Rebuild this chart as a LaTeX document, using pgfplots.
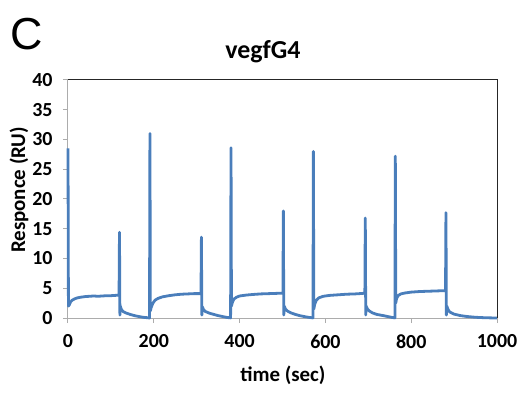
\documentclass[border=0pt]{standalone}
\usepackage{fontspec}
\setmainfont{Carlito}
\newfontfamily\arialfont{Liberation Sans}
\usepackage{pgfplots}
\pgfplotsset{compat=1.18}
\definecolor{sgblue}{RGB}{74,126,187}
\begin{document}
\begin{tikzpicture}
\useasboundingbox (-68bp,-76bp) rectangle (454bp,318bp);
\begin{axis}[
  at={(0,0)}, anchor=south west,
  scale only axis, width=429bp, height=238bp,
  xmin=0, xmax=1000, ymin=0, ymax=40,
  xtick={0,200,400,600,800,1000}, ytick={0,5,10,15,20,25,30,35,40},
  xticklabels={0,200,400,600,800,1000},
  yticklabels={0,5,10,15,20,25,30,35,40},
  xtick pos=bottom, ytick pos=left, tick align=outside,
  major tick length=5bp,
  axis line style={draw=gray!65, line width=1bp},
  tick style={draw=gray!65, line width=1bp},
  tick label style={font=\fontsize{20}{24}\selectfont\bfseries},
  yticklabel style={xshift=-7bp},
  xticklabel style={yshift=-8bp},
  title={vegfG4},
  title style={at={(rel axis cs:0.4545,1)}, anchor=base, yshift=16bp, font=\fontsize{26}{31}\selectfont\bfseries},
  xlabel={time (sec)},
  xlabel style={at={(rel axis cs:0.501,0)}, anchor=base, yshift=-63bp, font=\fontsize{21}{25}\selectfont\bfseries},
  ylabel={Responce (RU)},
  ylabel style={at={(rel axis cs:-0.1002,0.538)}, anchor=base, font=\fontsize{21}{25}\selectfont\bfseries},
  clip=false,
]
\addplot[sgblue, line width=2.8bp, line join=round, no marks] coordinates {
(0,28.5)(1,2.0)(3,2.2)(6,2.7)(10,3.0)(15,3.2)(20,3.35)(30,3.5)(40,3.6)(50,3.65)(60,3.7)(70,3.65)(80,3.7)(90,3.75)(100,3.75)(110,3.8)(119,3.85)
(120,14.4)(121,0.5)(122,2.0)(124,1.5)(128,1.1)(135,0.85)(145,0.6)(155,0.4)(165,0.25)(175,0.12)(185,0.05)(190,0)
(191,31.0)(192,1.2)(194,1.8)(198,2.5)(203,3.0)(210,3.3)(220,3.55)(235,3.75)(250,3.9)(265,4.0)(280,4.05)(295,4.1)(310,4.1)
(311,13.6)(312,0.5)(313,1.9)(316,1.4)(320,1.1)(330,0.8)(340,0.6)(350,0.4)(360,0.25)(370,0.1)(379,0.02)
(380,28.6)(381,2.0)(383,2.6)(387,3.2)(393,3.5)(400,3.7)(415,3.85)(430,3.95)(450,4.05)(470,4.1)(490,4.15)(501,4.15)
(502,18.0)(503,0.5)(504,2.0)(507,1.5)(512,1.15)(520,0.85)(530,0.6)(540,0.4)(550,0.25)(560,0.12)(571,0.02)
(572,28.0)(573,1.5)(575,2.3)(579,3.0)(585,3.4)(595,3.65)(610,3.8)(630,3.9)(650,4.0)(670,4.05)(690,4.15)(692,4.15)
(693,16.8)(694,0.5)(695,2.0)(698,1.5)(703,1.15)(710,0.85)(720,0.6)(735,0.4)(745,0.25)(755,0.1)(762,0.02)
(763,27.2)(764,2.5)(766,3.3)(770,3.8)(776,4.05)(785,4.2)(800,4.35)(820,4.45)(840,4.5)(860,4.55)(880,4.6)
(881,17.7)(882,0.5)(883,2.0)(886,1.4)(890,1.0)(900,0.65)(915,0.4)(930,0.25)(950,0.12)(970,0.05)(985,0.02)(1000,0.0)
};
\draw[black!85, line width=1bp] (rel axis cs:0,1) -- (rel axis cs:1,1) -- (rel axis cs:1,0);
\end{axis}
\node[anchor=base west, inner sep=0pt, font=\fontsize{45}{54}\selectfont\arialfont] at (-58bp,268bp) {C};
\end{tikzpicture}
\end{document}
